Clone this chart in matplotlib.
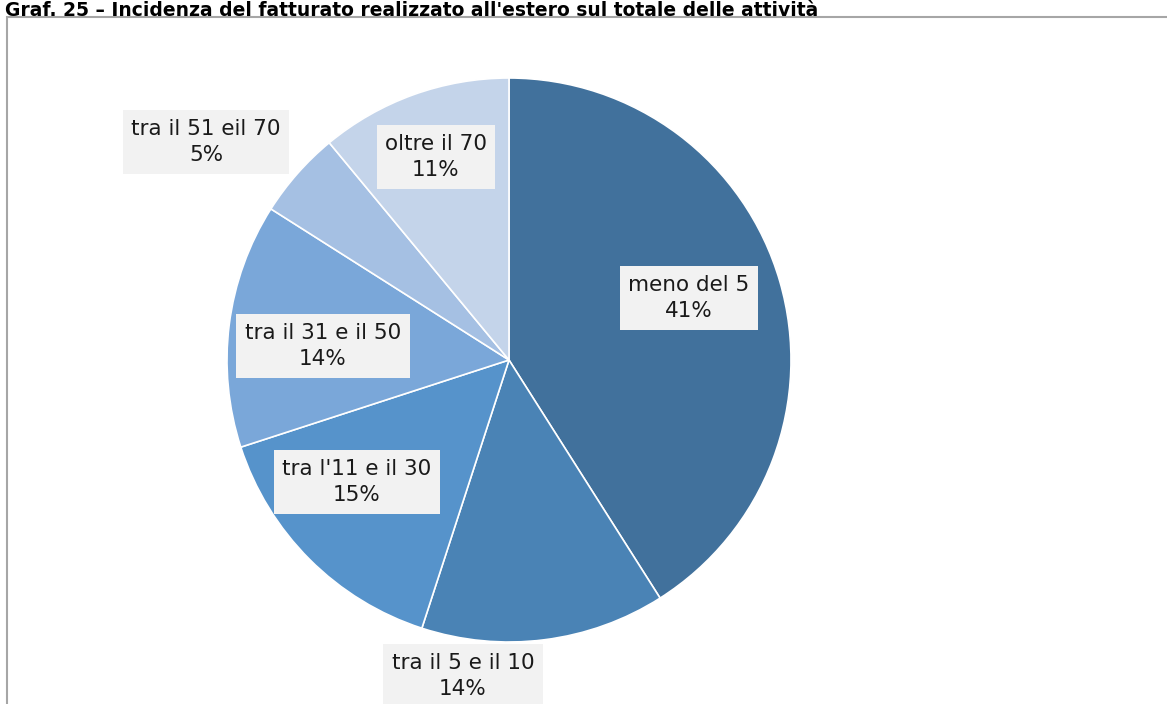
import matplotlib.pyplot as plt
import matplotlib.patches as patches

# data
categories = ['meno del 5', 'tra il 5 e il 10', "tra l'11 e il 30",
              'tra il 31 e il 50', 'tra il 51 eil 70', 'oltre il 70']
values = [41, 14, 15, 14, 5, 11]
colors = ['#41719C', '#4A83B5', '#5693CB', '#7AA7D9', '#A5C0E3', '#C4D4EA']

# label centres in pixel coords (layout only)
label_pos = [(689, 298), (463, 676), (357, 482), (323, 346), (206, 142), (436, 157)]


def main():
    W, H = 1167, 704
    fig = plt.figure(figsize=(W / 100, H / 100), dpi=100)
    ax = fig.add_axes([0, 0, 1, 1])
    ax.set_xlim(0, W)
    ax.set_ylim(-H, 0)
    ax.set_aspect('equal')
    ax.axis('off')

    # outer frame (runs off the right and bottom edges like the source)
    ax.add_patch(patches.Rectangle((7, -H - 10), W + 20, H - 7, fill=False,
                                   edgecolor='#A6A6A6', linewidth=1.5))

    ax.pie(values, colors=colors, startangle=90, counterclock=False,
           center=(509, -360), radius=282,
           wedgeprops=dict(edgecolor='white', linewidth=1.2))
    ax.set_xlim(0, W)
    ax.set_ylim(-H, 0)

    for cat, v, (x, y) in zip(categories, values, label_pos):
        ax.text(x, -y, f'{cat}\n{v}%', ha='center', va='center', fontsize=15.5,
                color='#1A1A1A', linespacing=1.4,
                bbox=dict(facecolor='#F2F2F2', edgecolor='none', pad=6))

    fig.text(5 / W, 1 - 1 / H,
             "Graf. 25 – Incidenza del fatturato realizzato all'estero sul totale delle attività",
             ha='left', va='top', fontsize=13.5, fontweight='bold')

    fig.savefig('out.png', dpi=100)


if __name__ == '__main__':
    main()
